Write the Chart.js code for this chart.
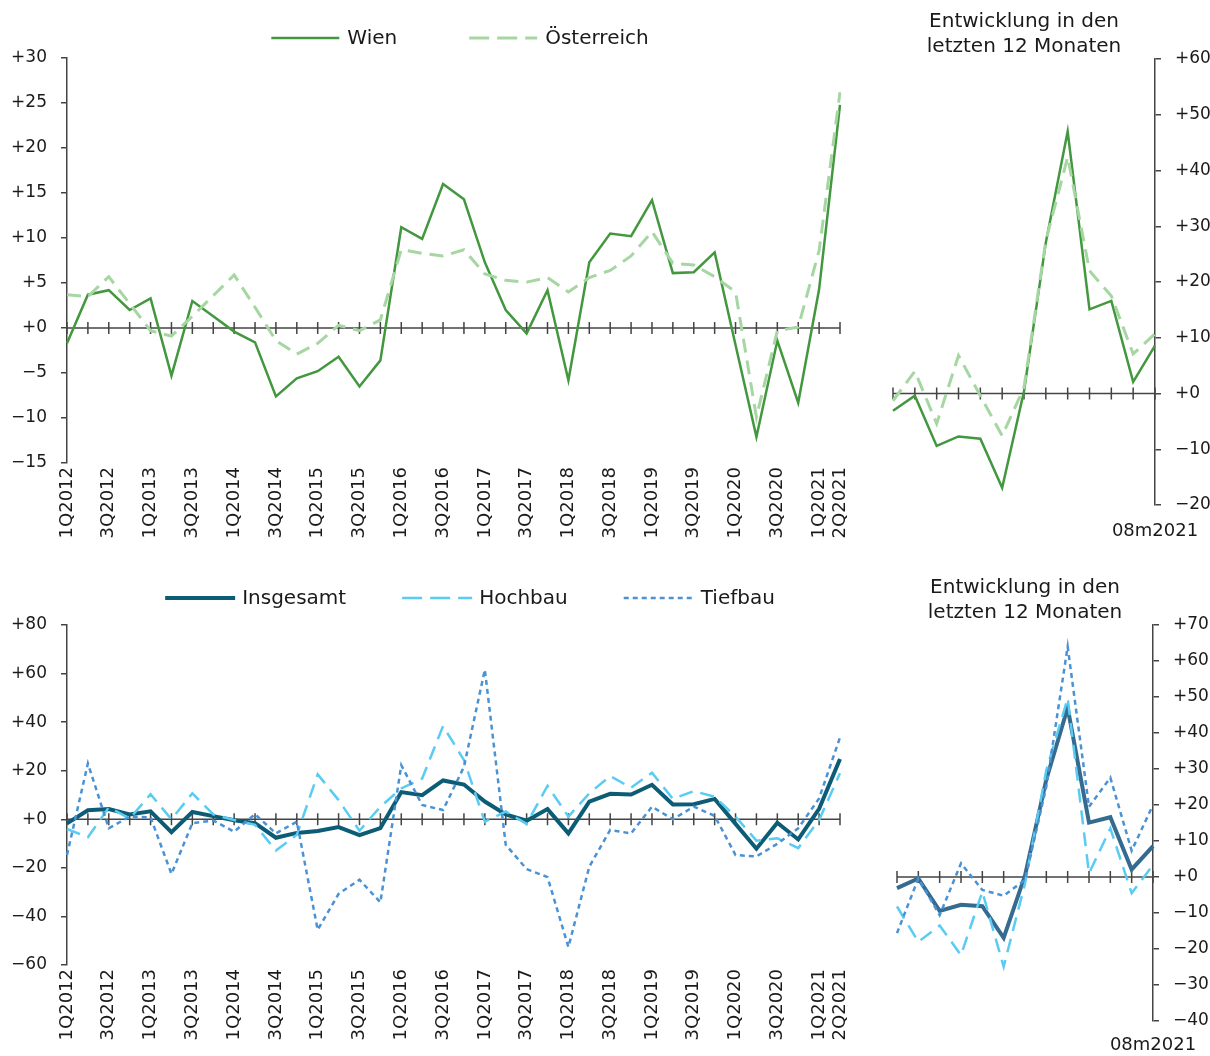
<!DOCTYPE html>
<html lang="de">
<head>
<meta charset="utf-8">
<title>Bauproduktion Wien</title>
<script src="https://cdn.jsdelivr.net/npm/chart.js@4.4.0/dist/chart.umd.min.js"></script>
<style>
  html, body { margin: 0; padding: 0; background: #fff; }
  #wrap { position: relative; width: 1210px; height: 1056px; overflow: hidden; }
  canvas { position: absolute; }
</style>
</head>
<body>
<div id="wrap">
  <canvas id="chartTopLeft" width="870" height="560" style="left:0;top:0"></canvas>
  <canvas id="chartTopRight" width="330" height="560" style="left:880px;top:0"></canvas>
  <canvas id="chartBottomLeft" width="870" height="491" style="left:0;top:565px"></canvas>
  <canvas id="chartBottomRight" width="330" height="492" style="left:880px;top:564px"></canvas>
</div>
<script>
// categories
var quarters = ['1Q2012', '2Q2012', '3Q2012', '4Q2012', '1Q2013', '2Q2013', '3Q2013', '4Q2013',
    '1Q2014', '2Q2014', '3Q2014', '4Q2014', '1Q2015', '2Q2015', '3Q2015', '4Q2015',
    '1Q2016', '2Q2016', '3Q2016', '4Q2016', '1Q2017', '2Q2017', '3Q2017', '4Q2017',
    '1Q2018', '2Q2018', '3Q2018', '4Q2018', '1Q2019', '2Q2019', '3Q2019', '4Q2019',
    '1Q2020', '2Q2020', '3Q2020', '4Q2020', '1Q2021', '2Q2021'];
var months = ['08m2020', '09m2020', '10m2020', '11m2020', '12m2020', '01m2021', '02m2021',
    '03m2021', '04m2021', '05m2021', '06m2021', '07m2021', '08m2021'];

// quarterly series (change in %)
var wienQ = [-1.7, 3.7, 4.2, 2.0, 3.3, -5.3, 3.0, 1.3, -0.4, -1.6, -7.6, -5.6, -4.8, -3.2, -6.5, -3.6,
    11.2, 9.9, 16.0, 14.3, 7.3, 2.0, -0.6, 4.2, -5.8, 7.3, 10.5, 10.2, 14.2, 6.1, 6.2, 8.4,
    -1.9, -12.1, -1.4, -8.3, 4.3, 24.8];
var oesterreichQ = [3.7, 3.5, 5.7, 2.7, -0.3, -0.9, 1.3, 3.6, 5.9, 2.3, -1.4, -2.9, -1.7, 0.3, -0.3, 0.9,
    8.7, 8.3, 8.0, 8.7, 6.0, 5.3, 5.1, 5.6, 4.0, 5.6, 6.4, 8.0, 10.7, 7.2, 7.0, 5.7,
    4.0, -9.9, -0.3, 0.1, 8.6, 26.2];
var insgesamtQ = wienQ; // Wien insgesamt, same series as above
var hochbauQ = [-4.0, -7.4, 4.9, 0.3, 10.3, 0.0, 10.7, 2.0, -0.3, -2.3, -12.9, -6.4, 18.5, 7.9, -4.7, 5.2,
    12.7, 16.8, 38.4, 24.4, -1.0, 3.2, -1.9, 13.8, 1.1, 10.7, 17.8, 13.0, 19.2, 8.4, 11.6, 9.3,
    1.1, -8.8, -7.8, -11.9, -0.3, 19.0];
var tiefbauQ = [-14.7, 23.0, -3.7, 1.1, 0.8, -22.5, -1.6, -0.5, -5.1, 2.1, -5.8, -1.0, -45.5, -30.7, -24.9, -34.2,
    22.3, 5.9, 3.8, 21.6, 61.6, -10.5, -20.5, -23.8, -52.6, -19.5, -4.4, -5.8, 5.2, 0.0, 5.2, 1.4,
    -14.7, -15.3, -10.1, -3.7, 8.6, 33.7];

// monthly series, last 12 months
var wienM = [-3.1, -0.4, -9.4, -7.7, -8.1, -16.9, 0.4, 27.1, 47.0, 15.1, 16.6, 2.1, 8.6];
var oesterreichM = [-1.3, 4.0, -5.4, 6.8, -0.4, -7.6, 1.1, 27.4, 42.4, 22.0, 17.5, 7.1, 10.7];
var insgesamtM = wienM;
var hochbauM = [-8.2, -18.0, -13.5, -21.7, -4.1, -24.9, -1.8, 29.7, 49.6, 1.0, 13.5, -4.5, 3.3];
var tiefbauM = [-15.6, -0.4, -10.6, 3.8, -3.6, -5.2, -0.8, 25.1, 64.0, 19.5, 27.6, 7.3, 20.0];

var titleLines = ['Entwicklung in den', 'letzten 12 Monaten'];

var ink = '#1a1a1a';
var axisGrey = '#444444';
var fontFamily = "'DejaVu Sans', sans-serif";

Chart.defaults.font.family = fontFamily;
Chart.defaults.color = ink;

function signed(v) {
    if (v > 0) return '+' + v;
    if (v < 0) return '\u2212' + Math.abs(v);
    return '+0';
}

// zero line with a tick at every category, like the Excel axis crossing at 0
var zeroAxis = {
    id: 'zeroAxis',
    beforeDatasetsDraw: function (chart) {
        var ctx = chart.ctx, area = chart.chartArea;
        var x = chart.scales.x, y0 = chart.scales.y.getPixelForValue(0);
        ctx.save();
        ctx.strokeStyle = axisGrey;
        ctx.lineWidth = 1.5;
        ctx.beginPath();
        ctx.moveTo(area.left, y0);
        ctx.lineTo(area.right, y0);
        for (var i = 0; i < chart.data.labels.length; i++) {
            var px = x.getPixelForValue(i);
            ctx.moveTo(px, y0 - 6);
            ctx.lineTo(px, y0 + 6);
        }
        ctx.stroke();
        ctx.restore();
    }
};

// legend with line samples, centred on a given x
var lineLegend = {
    id: 'lineLegend',
    afterDraw: function (chart, args, opts) {
        if (!opts || opts.y === undefined) return;
        var ctx = chart.ctx;
        ctx.save();
        ctx.font = opts.fontSize + 'px ' + fontFamily;
        var sets = chart.data.datasets;
        var widths = sets.map(function (ds) {
            return opts.sample + opts.textGap + ctx.measureText(ds.label).width;
        });
        var total = widths.reduce(function (a, b) { return a + b; }, 0) + opts.gap * (sets.length - 1);
        var x = opts.centerX - total / 2;
        sets.forEach(function (ds, i) {
            ctx.strokeStyle = ds.borderColor;
            ctx.lineWidth = ds.borderWidth;
            ctx.setLineDash(ds.legendDash || ds.borderDash || []);
            ctx.beginPath();
            ctx.moveTo(x, opts.y);
            ctx.lineTo(x + opts.sample, opts.y);
            ctx.stroke();
            ctx.setLineDash([]);
            ctx.fillStyle = ink;
            ctx.textAlign = 'left';
            ctx.textBaseline = 'middle';
            ctx.fillText(ds.label, x + opts.sample + opts.textGap, opts.y + 1);
            x += widths[i] + opts.gap;
        });
        ctx.restore();
    }
};

function line(label, data, color, width, dash, legendDash, order) {
    return {
        label: label,
        data: data,
        borderColor: color,
        backgroundColor: color,
        borderWidth: width,
        borderDash: dash,
        legendDash: legendDash,
        pointRadius: 0,
        pointHoverRadius: 0,
        tension: 0,
        fill: false,
        order: order
    };
}

function yAxis(pos, min, max, step, width) {
    return {
        position: pos,
        min: min,
        max: max,
        ticks: {stepSize: step, padding: 14, font: {size: 17}, color: ink, callback: signed},
        grid: {drawOnChartArea: false, drawTicks: true, tickLength: 6, color: axisGrey, lineWidth: 1.5},
        border: {color: axisGrey, width: 1.5},
        afterFit: function (s) { s.width = width; }
    };
}

// fixed height, and no extra side padding from the end labels
function fixX(height) {
    return function (s) {
        s.height = height;
        s.paddingLeft = 0;
        s.paddingRight = 0;
    };
}

function quarterAxis(height) {
    return {
        grid: {display: false, drawTicks: false},
        border: {display: false},
        ticks: {
            autoSkip: false, minRotation: 90, maxRotation: 90, padding: 4,
            font: {size: 18}, color: ink,
            callback: function (v, i) {
                return (i % 2 === 0 || i === quarters.length - 1) ? quarters[i] : '';
            }
        },
        afterFit: fixX(height)
    };
}

function monthAxis(height, pad) {
    return {
        grid: {display: false, drawTicks: false},
        border: {display: false},
        ticks: {
            autoSkip: false, minRotation: 0, maxRotation: 0, padding: pad,
            font: {size: 18}, color: ink,
            callback: function (v, i) { return i === months.length - 1 ? months[i] : ''; }
        },
        afterFit: fixX(height)
    };
}

function monthTitle(padTop) {
    return {
        display: true,
        text: titleLines,
        fullSize: false,
        color: ink,
        font: {size: 20, weight: 'normal', lineHeight: 1.25},
        padding: {top: padTop, bottom: 0}
    };
}

var wienGreen = '#43973f';
var austriaGreen = '#a6d6a2';
var tealDark = '#0d5c75';
var steelBlue = '#346b8f';
var hochbauBlue = '#5acbf2';
var tiefbauBlue = '#4a92d4';

// Wien vs. Österreich, quarterly
new Chart(document.getElementById('chartTopLeft'), {
    type: 'line',
    data: {
        labels: quarters,
        datasets: [
            line('Wien', wienQ, wienGreen, 2.5, [], [], 2),
            line('Österreich', oesterreichQ, austriaGreen, 3, [14, 8], [20, 8], 1)
        ]
    },
    options: {
        responsive: false,
        animation: false,
        layout: {autoPadding: false, padding: {top: 58, right: 30}},
        scales: {x: quarterAxis(97), y: yAxis('left', -15, 30, 5, 67)},
        plugins: {
            legend: {display: false},
            tooltip: {enabled: false},
            lineLegend: {y: 38, centerX: 460, gap: 72, sample: 68, textGap: 8, fontSize: 20}
        }
    },
    plugins: [zeroAxis, lineLegend]
});

// Wien vs. Österreich, last 12 months
new Chart(document.getElementById('chartTopRight'), {
    type: 'line',
    data: {
        labels: months,
        datasets: [
            line('Wien', wienM, wienGreen, 2.5, [], [], 2),
            line('Österreich', oesterreichM, austriaGreen, 3, [14, 8], [20, 8], 1)
        ]
    },
    options: {
        responsive: false,
        animation: false,
        layout: {autoPadding: false, padding: {left: 13}},
        scales: {x: monthAxis(55, 16), y: yAxis('right', -20, 60, 10, 55)},
        plugins: {
            legend: {display: false},
            tooltip: {enabled: false},
            title: monthTitle(9)
        }
    },
    plugins: [zeroAxis]
});

// Insgesamt / Hochbau / Tiefbau, quarterly
new Chart(document.getElementById('chartBottomLeft'), {
    type: 'line',
    data: {
        labels: quarters,
        datasets: [
            line('Insgesamt', insgesamtQ, tealDark, 4, [], [], 3),
            line('Hochbau', hochbauQ, hochbauBlue, 2.5, [14, 8], [20, 8], 2),
            line('Tiefbau', tiefbauQ, tiefbauBlue, 2.5, [5, 4], [5, 4], 1)
        ]
    },
    options: {
        responsive: false,
        animation: false,
        layout: {autoPadding: false, padding: {top: 60, right: 30}},
        scales: {x: quarterAxis(91), y: yAxis('left', -60, 80, 20, 67)},
        plugins: {
            legend: {display: false},
            tooltip: {enabled: false},
            lineLegend: {y: 33, centerX: 470, gap: 56, sample: 70, textGap: 7, fontSize: 20}
        }
    },
    plugins: [zeroAxis, lineLegend]
});

// Insgesamt / Hochbau / Tiefbau, last 12 months
new Chart(document.getElementById('chartBottomRight'), {
    type: 'line',
    data: {
        labels: months,
        datasets: [
            line('Insgesamt', insgesamtM, steelBlue, 4, [], [], 3),
            line('Hochbau', hochbauM, hochbauBlue, 2.5, [14, 8], [20, 8], 2),
            line('Tiefbau', tiefbauM, tiefbauBlue, 2.5, [5, 4], [5, 4], 1)
        ]
    },
    options: {
        responsive: false,
        animation: false,
        layout: {autoPadding: false, padding: {left: 17}},
        scales: {x: monthAxis(35, 14), y: yAxis('right', -40, 70, 10, 57)},
        plugins: {
            legend: {display: false},
            tooltip: {enabled: false},
            title: monthTitle(11)
        }
    },
    plugins: [zeroAxis]
});
</script>
</body>
</html>
